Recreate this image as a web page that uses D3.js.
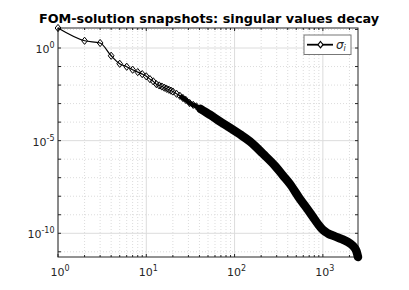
<!DOCTYPE html>
<html>
<head>
<meta charset="utf-8">
<script src="https://cdn.jsdelivr.net/npm/d3@7"></script>
<style>
  body { margin: 0; background: #fff; }
  text { font-family: "DejaVu Sans", sans-serif; }
</style>
</head>
<body>
<div id="chart"></div>
<script>
// singular value index (mode number) and log10 of its value
var modeIdx = [1, 2, 3, 4, 5, 6, 7, 8, 9, 10, 11, 12, 13,
    14, 15, 16, 17, 18, 19, 20, 22, 24, 26, 28, 31, 34, 37, 41,
    53, 68, 89, 115, 149, 210, 287, 353, 424, 550, 661, 773, 880,
    1002, 1142, 1371, 1644, 2027, 2250, 2400, 2500];
var sigmaLog = [1.08, 0.39, 0.27, -0.42, -0.85, -1.01, -1.17, -1.30, -1.41, -1.53, -1.68, -1.80, -1.95,
    -2.02, -2.08, -2.14, -2.20, -2.25, -2.30, -2.35, -2.47, -2.58, -2.70, -2.80, -2.97, -3.07, -3.15, -3.28,
    -3.61, -3.96, -4.31, -4.66, -5.04, -5.71, -6.36, -6.88, -7.34, -8.15, -8.66, -9.12, -9.50,
    -9.82, -10.01, -10.17, -10.32, -10.54, -10.74, -10.96, -11.28];
var sigma = sigmaLog.map(function(v) { return Math.pow(10, v); });

var xMajor = [1, 10, 100, 1000];
var yMajorExp = [0, -5, -10];

var width = 409, height = 290;
var axL = 58, axR = 358, axT = 28, axB = 257;

var svg = d3.select('#chart').append('svg')
    .attr('width', width)
    .attr('height', height);

var x = d3.scaleLog().domain([modeIdx[0], modeIdx[modeIdx.length - 1]]).range([axL, axR]);
var y = d3.scaleLog().domain(d3.extent(sigma)).range([axB, axT]);

var gridColor = '#dcdcdc';

// minor grid x: 2..9 of each decade
var xMinor = [];
[1, 10, 100, 1000].forEach(function(d) {
    for (var m = 2; m <= 9; m++) {
        if (d * m < x.domain()[1]) xMinor.push(d * m);
    }
});
// minor grid y: every decade
var yMinor = [];
for (var e = -11; e <= 1; e++) {
    if (yMajorExp.indexOf(e) < 0) yMinor.push(Math.pow(10, e));
}
yMinor = yMinor.filter(function(d) { return y(d) >= axT && y(d) <= axB; });

var grid = svg.append('g');
grid.selectAll('.xminor').data(xMinor).enter().append('line')
    .attr('x1', function(d) { return x(d); }).attr('x2', function(d) { return x(d); })
    .attr('y1', axT).attr('y2', axB)
    .attr('stroke', gridColor).attr('stroke-width', 1).attr('stroke-dasharray', '1,2');
grid.selectAll('.yminor').data(yMinor).enter().append('line')
    .attr('x1', axL).attr('x2', axR)
    .attr('y1', function(d) { return y(d); }).attr('y2', function(d) { return y(d); })
    .attr('stroke', gridColor).attr('stroke-width', 1).attr('stroke-dasharray', '1,2');
grid.selectAll('.xmajor').data(xMajor).enter().append('line')
    .attr('x1', function(d) { return x(d); }).attr('x2', function(d) { return x(d); })
    .attr('y1', axT).attr('y2', axB)
    .attr('stroke', gridColor).attr('stroke-width', 1);
grid.selectAll('.ymajor').data(yMajorExp).enter().append('line')
    .attr('x1', axL).attr('x2', axR)
    .attr('y1', function(d) { return y(Math.pow(10, d)); }).attr('y2', function(d) { return y(Math.pow(10, d)); })
    .attr('stroke', gridColor).attr('stroke-width', 1);

// axes box + inner ticks
var axCol = '#262626';
var ax = svg.append('g');
ax.append('rect')
    .attr('x', axL).attr('y', axT)
    .attr('width', axR - axL).attr('height', axB - axT)
    .attr('fill', 'none').attr('stroke', axCol).attr('stroke-width', 1);

var xTicks = xMajor.concat(xMinor);
xTicks.forEach(function(d) {
    var len = xMajor.indexOf(d) >= 0 ? 3 : 2;
    ax.append('line').attr('x1', x(d)).attr('x2', x(d)).attr('y1', axB).attr('y2', axB - len)
        .attr('stroke', axCol);
    ax.append('line').attr('x1', x(d)).attr('x2', x(d)).attr('y1', axT).attr('y2', axT + len)
        .attr('stroke', axCol);
});
yMinor.concat(yMajorExp.map(function(e) { return Math.pow(10, e); })).forEach(function(d) {
    ax.append('line').attr('x1', axL).attr('x2', axL + 3).attr('y1', y(d)).attr('y2', y(d))
        .attr('stroke', axCol);
    ax.append('line').attr('x1', axR).attr('x2', axR - 3).attr('y1', y(d)).attr('y2', y(d))
        .attr('stroke', axCol);
});

// tick labels 10^n
function powLabel(sel, exp) {
    sel.append('tspan').text('10');
    sel.append('tspan').attr('dy', -5).attr('font-size', 8).text(exp);
}
xMajor.forEach(function(d) {
    var t = ax.append('text')
        .attr('x', x(d) + 2).attr('y', 276)
        .attr('text-anchor', 'middle')
        .attr('font-size', 11).attr('fill', axCol);
    powLabel(t, Math.round(Math.log10(d)));
});
yMajorExp.forEach(function(e) {
    var t = ax.append('text')
        .attr('x', 54.5).attr('y', y(Math.pow(10, e)) + 5)
        .attr('text-anchor', 'end')
        .attr('font-size', 11).attr('fill', axCol);
    powLabel(t, e);
});

// data
var pts = modeIdx.map(function(k, i) { return [x(k), y(sigma[i])]; });
var line = d3.line().curve(d3.curveMonotoneX);

// dense region: the markers merge into a band that thickens
var midPts = pts.filter(function(p, i) { return modeIdx[i] >= 24 && modeIdx[i] <= 68; });
svg.append('path')
    .attr('d', line(midPts))
    .attr('fill', 'none').attr('stroke', '#000')
    .attr('stroke-width', 4.5).attr('stroke-linejoin', 'round');
var densePts = pts.filter(function(p, i) { return modeIdx[i] >= 41; });
svg.append('path')
    .attr('d', line(densePts))
    .attr('fill', 'none').attr('stroke', '#000')
    .attr('stroke-width', 8.5).attr('stroke-linejoin', 'round').attr('stroke-linecap', 'round');

svg.append('path')
    .attr('d', line(pts))
    .attr('fill', 'none').attr('stroke', '#000').attr('stroke-width', 1.2);

function diamond(cx, cy, r) {
    return 'M' + cx + ',' + (cy - r) + 'L' + (cx + r * 0.8) + ',' + cy +
        'L' + cx + ',' + (cy + r) + 'L' + (cx - r * 0.8) + ',' + cy + 'Z';
}
svg.append('g').selectAll('path')
    .data(pts.filter(function(p, i) { return modeIdx[i] <= 41; }))
    .enter().append('path')
    .attr('d', function(p) { return diamond(p[0], p[1], 3.6); })
    .attr('fill', 'none').attr('stroke', '#000').attr('stroke-width', 1);

// title
svg.append('text')
    .attr('x', 209).attr('y', 22.5)
    .attr('text-anchor', 'middle')
    .attr('font-size', 12.8).attr('font-weight', 'bold').attr('fill', '#000')
    .text('FOM-solution snapshots: singular values decay');

// legend
var lg = svg.append('g');
lg.append('rect')
    .attr('x', 304).attr('y', 35).attr('width', 47).attr('height', 19.5)
    .attr('fill', '#fff').attr('stroke', '#777').attr('stroke-width', 1);
lg.append('line')
    .attr('x1', 307).attr('x2', 333).attr('y1', 44.7).attr('y2', 44.7)
    .attr('stroke', '#000').attr('stroke-width', 1.8);
lg.append('path')
    .attr('d', diamond(320.5, 44.7, 3.2))
    .attr('fill', '#fff').attr('stroke', '#000').attr('stroke-width', 1.2);
var lt = lg.append('text')
    .attr('x', 336).attr('y', 48.5)
    .attr('font-size', 12).attr('fill', '#262626').attr('font-style', 'italic');
lt.append('tspan').text('\u03c3');
lt.append('tspan').attr('dy', 2.5).attr('font-size', 8).text('i');
</script>
</body>
</html>
